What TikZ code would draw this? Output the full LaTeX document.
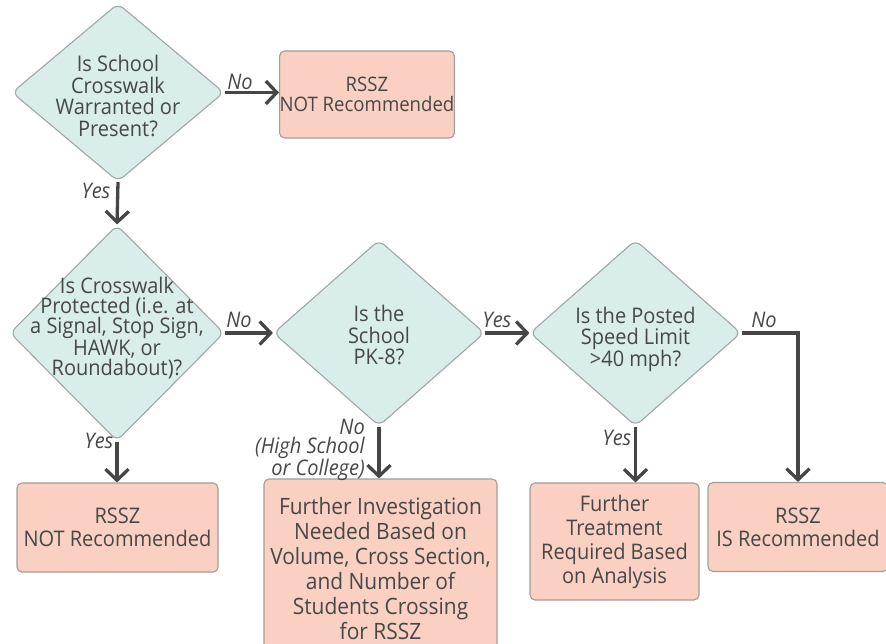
\documentclass[tikz,border=0pt]{standalone}
\usepackage{fontspec}
\setmainfont{Open Sans}[FakeStretch=0.93]
\usetikzlibrary{shapes.geometric,arrows.meta}
\definecolor{diafill}{HTML}{D9EDEA}
\definecolor{diadraw}{HTML}{9FA7A5}
\definecolor{boxfill}{HTML}{F9D0C1}
\definecolor{boxdraw}{HTML}{A39C99}
\definecolor{txt}{HTML}{474747}
\definecolor{arrc}{HTML}{464646}
\tikzset{
  dia/.style={diamond, fill=diafill, draw=diadraw, line width=1.1pt, rounded corners=7pt, inner sep=0pt},
  dtext/.style={align=center, text=txt, font=\fontsize{21.5}{21.5}\selectfont, inner sep=0pt},
  res/.style={rectangle, fill=boxfill, draw=boxdraw, line width=1.1pt, rounded corners=5pt, align=center, text=txt, font=\fontsize{21.5}{24}\selectfont, inner sep=0pt},
  arr/.style={draw=arrc, line width=3.3pt, -{Straight Barb[length=11pt,width=23pt]}},
  lab/.style={text=txt, font=\fontsize{21.5}{19}\selectfont\itshape, inner sep=0pt}
}
\begin{document}
\begin{tikzpicture}[x=1pt,y=-1pt]
\useasboundingbox (0,0) rectangle (886,643);
\clip (0,0) rectangle (886,643);
% decisions
\node[dia, minimum width=212pt, minimum height=178pt] (d1) at (118,92.5) {};
\node[dtext] (d1t) at (118,96) {Is School\\Crosswalk\\Warranted or\\Present?};
\node[dia, minimum width=214pt, minimum height=216pt] (d2) at (117,333) {};
\node[dtext, font=\fontsize{21.5}{20.4}\selectfont] (d2t) at (117,328) {Is Crosswalk\\Protected (i.e. at\\a Signal, Stop Sign,\\HAWK, or\\Roundabout)?};
\node[dia, minimum width=211pt, minimum height=186pt] (d3) at (379,333) {};
\node[dtext] (d3t) at (379,335) {Is the\\School\\PK-8?};
\node[dia, minimum width=211pt, minimum height=186pt] (d4) at (635.5,333) {};
\node[dtext] (d4t) at (635.5,339) {Is the Posted\\Speed Limit\\>40 mph?};
% results
\node[res, minimum width=172pt, minimum height=87pt, font=\fontsize{20}{20.5}\selectfont] (b1) at (367,94.5) {RSSZ\\NOT Recommended};
\node[res, minimum width=201pt, minimum height=89pt, font=\fontsize{21.5}{23}\selectfont] (b2) at (117.5,527.5) {RSSZ\\NOT Recommended};
\node[res, minimum width=233pt, minimum height=179pt, font=\fontsize{22.5}{25}\selectfont] (b3) at (380.5,568.5) {Further Investigation\\Needed Based on\\Volume, Cross Section,\\and Number of\\Students Crossing\\for RSSZ};
\node[res, minimum width=169pt, minimum height=117pt] (b4) at (614.5,541.5) {Further\\Treatment\\Required Based\\on Analysis};
\node[res, minimum width=180pt, minimum height=89pt, font=\fontsize{21.5}{23}\selectfont] (b5) at (798,527) {RSSZ\\IS Recommended};
% connectors
\draw[arr] (d1.east) -- (b1.west |- d1.east);
\draw[arr] (d1.south) -- (d2.north);
\draw[arr] (d2.east) -- (d3.west);
\draw[arr] (d3.east) -- (d4.west);
\draw[arr] (d4.east) -| (b5.north);
\draw[arr] (d2.south) -- (b2.north -| d2.south);
\draw[arr] (d3.south) -- (b3.north -| d3.south);
\draw[arr] (d4.south) -- (b4.north -| d4.south);
% labels
\node[lab] (l1) at (240,82) {No};
\node[lab] (l2) at (96,191) {Yes};
\node[lab] (l3) at (239,320) {No};
\node[lab] (l4) at (497,320) {Yes};
\node[lab] (l5) at (764,320) {No};
\node[lab] (l6) at (99,441) {Yes};
\node[lab, align=right, anchor=south east] (l7) at (365,481) {No\\(High School\\or College)};
\node[lab] (l8) at (617,438) {Yes};
\end{tikzpicture}
\end{document}
